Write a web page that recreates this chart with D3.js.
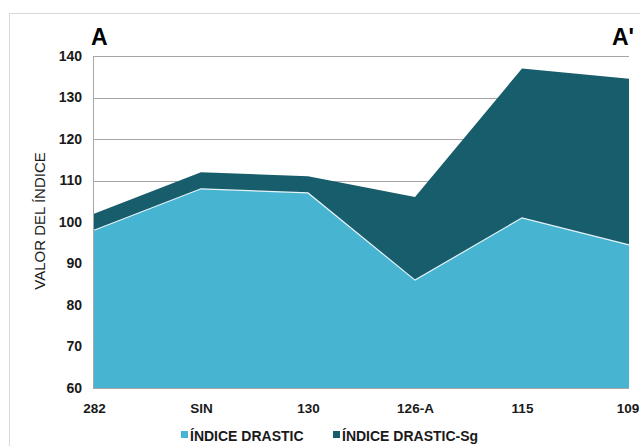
<!DOCTYPE html>
<html><head><meta charset="utf-8">
<script src="https://cdn.jsdelivr.net/npm/d3@7"></script>
<style>body{margin:0;background:#fff}svg{display:block}</style>
</head><body>
<svg id="c" width="640" height="446"></svg>
<script>
const categories = ["282","SIN","130","126-A","115","109"];
const drastic   = [98, 108, 107, 86, 101, 94.5];
const drasticSg = [102, 112, 111, 106, 137, 134.5];
const yTicks = [60,70,80,90,100,110,120,130,140];
const seriesNames = ["ÍNDICE DRASTIC","ÍNDICE DRASTIC-Sg"];
const colors = ["#47b4d2","#175d6b"];

const FONT = "'Liberation Sans', Arial, sans-serif";
const svg = d3.select("#c");
const L=94, R=629, T=56, B=388;
const x = d3.scalePoint().domain(categories).range([L,R]);
const y = d3.scaleLinear().domain([60,140]).range([B,T]);

// frame
svg.append("rect").attr("x",9.5).attr("y",13.5).attr("width",640).attr("height",440)
  .attr("fill","none").attr("stroke","#d9d9d9");

// gridlines
svg.append("g").selectAll("line").data(yTicks).join("line")
  .attr("x1",L).attr("x2",R).attr("y1",d=>Math.round(y(d))+0.5).attr("y2",d=>Math.round(y(d))+0.5)
  .attr("stroke","#a6a6a6").attr("stroke-width",1);

const area = vals => d3.area().x((d,i)=>x(categories[i])).y0(y(60)).y1(d=>y(d))(vals);
svg.append("path").attr("d",area(drasticSg)).attr("fill",colors[1]);
svg.append("path").attr("d",area(drastic)).attr("fill",colors[0]);
svg.append("path").attr("d",d3.line().x((d,i)=>x(categories[i])).y(d=>y(d))(drastic))
  .attr("fill","none").attr("stroke","#e6f4f8").attr("stroke-width",1.2);

// axes lines
svg.append("line").attr("x1",L-0.5).attr("x2",L-0.5).attr("y1",T).attr("y2",B+1).attr("stroke","#a6a6a6");
svg.append("line").attr("x1",L).attr("x2",R).attr("y1",B+0.5).attr("y2",B+0.5).attr("stroke","#a6a6a6");

// y ticks
const yAxis = d3.axisLeft(y).tickValues(yTicks).tickSize(0).tickPadding(12);
const gy = svg.append("g").attr("transform",`translate(${L},0)`).call(yAxis);
gy.select(".domain").remove();
gy.selectAll("text").attr("font-family",FONT).attr("font-weight","bold")
  .attr("font-size",14).attr("fill","#1a1a1a");

// x ticks
const xAxis = d3.axisBottom(x).tickSize(0).tickPadding(15);
const gx = svg.append("g").attr("transform",`translate(0,${B})`).call(xAxis);
gx.select(".domain").remove();
gx.selectAll("text").attr("font-family",FONT).attr("font-weight","bold")
  .attr("font-size",13.5).attr("fill","#1a1a1a")
  .attr("dx",(d,i)=> i===categories.length-1 ? -1.5 : 0);

// y title
svg.append("text").attr("transform","translate(45,221) rotate(-90)").attr("text-anchor","middle")
  .attr("font-family",FONT).attr("font-size",15).attr("fill","#1a1a1a")
  .text("VALOR DEL ÍNDICE");

// A labels
svg.append("text").attr("x",91).attr("y",45).attr("font-family",FONT)
  .attr("font-weight","bold").attr("font-size",23).text("A");
svg.append("text").attr("x",634).attr("y",45).attr("text-anchor","end").attr("font-family",FONT)
  .attr("font-weight","bold").attr("font-size",23).text("A'");

// legend
const legX = [181, 333];
const lg = svg.append("g").selectAll("g").data(seriesNames).join("g")
  .attr("transform",(d,i)=>`translate(${legX[i]},0)`);
lg.append("rect").attr("x",0).attr("y",431).attr("width",7).attr("height",7).attr("fill",(d,i)=>colors[i]);
lg.append("text").attr("x",9).attr("y",441).attr("font-family",FONT).attr("font-weight","bold")
  .attr("font-size",14).attr("fill","#1a1a1a").text(d=>d);
</script>
</body></html>
